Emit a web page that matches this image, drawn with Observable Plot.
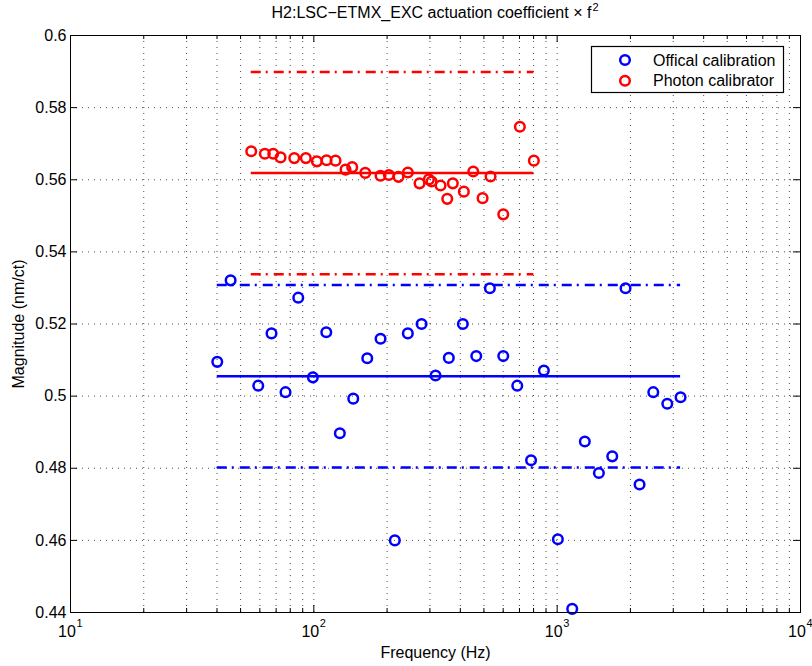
<!DOCTYPE html>
<html>
<head>
<meta charset="utf-8">
<script src="https://cdn.jsdelivr.net/npm/d3@7"></script>
<script src="https://cdn.jsdelivr.net/npm/@observablehq/plot@0.6"></script>
<style>
  html, body { margin: 0; padding: 0; background: #fff; }
  #chart { position: relative; width: 812px; height: 666px; }
</style>
</head>
<body>
<div id="chart"></div>
<script>
// ---------------- data ----------------
const titleMain = "H2:LSC\u2212ETMX_EXC actuation coefficient \u00d7 f";
const titleSup = "2";
const xLabel = "Frequency (Hz)";
const yLabel = "Magnitude (nm/ct)";
const seriesNames = ["Offical calibration", "Photon calibrator"];
const seriesColors = ["#0000ff", "#ff0000"];

const blueFreq = [40.1, 45.5, 59.1, 67.0, 76.5, 86.3, 99.1, 112.5, 127.9, 145.2, 165.8, 188.0, 215.2, 243.4, 277.2, 316.4, 358.7, 409.7, 465.1, 529.0, 600.4, 685.5, 781.1, 881.8, 1006.7, 1153, 1299, 1484, 1684, 1910, 2181, 2483, 2835, 3215];
const blueMag = [0.5095, 0.5321, 0.5029, 0.5174, 0.5011, 0.5273, 0.5052, 0.5177, 0.4897, 0.4993, 0.5105, 0.5159, 0.4600, 0.5174, 0.5200, 0.5057, 0.5106, 0.5200, 0.5111, 0.5299, 0.5111, 0.5029, 0.4822, 0.5071, 0.4603, 0.4410, 0.4874, 0.4787, 0.4833, 0.5299, 0.4755, 0.5011, 0.4979, 0.4997];

const redFreq = [55.3, 62.9, 68.1, 73.0, 83.1, 92.7, 102.9, 112.8, 122.8, 135.0, 143.8, 162.7, 188.0, 203.4, 222.9, 243.4, 271.9, 297.0, 304.7, 331.7, 353.4, 372.6, 413.6, 452.0, 493.8, 532.5, 600.4, 702.6, 802.2];
const redMag = [0.5679, 0.5672, 0.5672, 0.5662, 0.5660, 0.5660, 0.5651, 0.5654, 0.5653, 0.5628, 0.5635, 0.5619, 0.5611, 0.5613, 0.5608, 0.5620, 0.5590, 0.5601, 0.5595, 0.5584, 0.5547, 0.5590, 0.5567, 0.5623, 0.5549, 0.5609, 0.5504, 0.5747, 0.5653];

// mean and bounds [mean, upper, lower]
const blueLevels = [0.5055, 0.5308, 0.4802];
const redLevels = [0.5619, 0.5899, 0.5338];

const xMajorTicks = [10, 100, 1000, 10000];
const xMinorTicks = [20, 30, 40, 50, 60, 70, 80, 90, 200, 300, 400, 500, 600, 700, 800, 900, 2000, 3000, 4000, 5000, 6000, 7000, 8000, 9000];
const yTicks = [0.44, 0.46, 0.48, 0.50, 0.52, 0.54, 0.56, 0.58, 0.60];

// ---------------- build ----------------
const W = 812, H = 666, mL = 70, mR = 12, mT = 35, mB = 54;
const iw = W - mL - mR, ih = H - mT - mB;
const font = "'Liberation Sans', Arial, Helvetica, sans-serif";

const blue = blueFreq.map((f, i) => ({f, v: blueMag[i]}));
const red = redFreq.map((f, i) => ({f, v: redMag[i]}));
const lvl = (levels, freqs) => levels.map(v => ({v, x1: d3.min(freqs), x2: d3.max(freqs)}));
const blueMean = lvl(blueLevels.slice(0, 1), blueFreq), blueBounds = lvl(blueLevels.slice(1), blueFreq);
const redMean = lvl(redLevels.slice(0, 1), redFreq), redBounds = lvl(redLevels.slice(1), redFreq);

const xGrid = xMajorTicks.slice(1, -1).concat(xMinorTicks);
const yGrid = yTicks.slice(1, -1);
const gridStyle = {stroke: "#000", strokeWidth: 1, strokeDasharray: "1,5", strokeOpacity: 0.7};
const majorLen = 7, minorLen = 4;
const dashDot = "10,5,2,6";

const chart = Plot.plot({
  width: W, height: H,
  marginLeft: mL, marginRight: mR, marginTop: mT, marginBottom: mB,
  x: {type: "log", domain: [10, 10000], axis: null},
  y: {domain: [0.44, 0.6], axis: null},
  style: {fontFamily: font, background: "#fff", color: "#000"},
  marks: [
    // grid
    Plot.ruleX(xGrid, {x: d => d, ...gridStyle}),
    Plot.ruleY(yGrid, {y: d => d, ...gridStyle}),
    // inward ticks
    Plot.tickX(xMajorTicks, {x: d => d, stroke: "#000", insetTop: ih - majorLen}),
    Plot.tickX(xMajorTicks, {x: d => d, stroke: "#000", insetBottom: ih - majorLen}),
    Plot.tickX(xMinorTicks, {x: d => d, stroke: "#000", insetTop: ih - minorLen}),
    Plot.tickX(xMinorTicks, {x: d => d, stroke: "#000", insetBottom: ih - minorLen}),
    Plot.tickY(yTicks, {y: d => d, stroke: "#000", insetRight: iw - majorLen}),
    Plot.tickY(yTicks, {y: d => d, stroke: "#000", insetLeft: iw - majorLen}),
    // level lines
    Plot.ruleY(blueMean, {y: "v", x1: "x1", x2: "x2", stroke: seriesColors[0], strokeWidth: 2.5}),
    Plot.ruleY(blueBounds, {y: "v", x1: "x1", x2: "x2", stroke: seriesColors[0], strokeWidth: 2.5, strokeDasharray: dashDot}),
    Plot.ruleY(redMean, {y: "v", x1: "x1", x2: "x2", stroke: seriesColors[1], strokeWidth: 2.5}),
    Plot.ruleY(redBounds, {y: "v", x1: "x1", x2: "x2", stroke: seriesColors[1], strokeWidth: 2.5, strokeDasharray: dashDot}),
    // points
    Plot.dot(blue, {x: "f", y: "v", r: 4.8, stroke: seriesColors[0], strokeWidth: 2.5, fill: "none"}),
    Plot.dot(red, {x: "f", y: "v", r: 4.8, stroke: seriesColors[1], strokeWidth: 2.5, fill: "none"}),
    Plot.frame({stroke: "#000", strokeWidth: 1}),
    // tick labels
    Plot.text(yTicks, {y: d => d, text: d => String(+d.toFixed(2)), frameAnchor: "left", textAnchor: "end", lineAnchor: "middle", dx: -4, fontSize: 16, fill: "#000"}),
    Plot.text(xMajorTicks, {x: d => d, text: () => "10", frameAnchor: "bottom", textAnchor: "middle", lineAnchor: "middle", dx: -3.5, dy: 19, fontSize: 16, fill: "#000"}),
    Plot.text(xMajorTicks, {x: d => d, text: d => String(Math.round(Math.log10(d))), frameAnchor: "bottom", textAnchor: "start", lineAnchor: "middle", dx: 6, dy: 11, fontSize: 11, fill: "#000"}),
    // axis labels
    Plot.text([xLabel], {frameAnchor: "bottom", textAnchor: "middle", lineAnchor: "middle", dy: 40, fontSize: 16, fill: "#000"}),
    Plot.text([yLabel], {frameAnchor: "left", textAnchor: "middle", lineAnchor: "middle", rotate: -90, dx: -52, fontSize: 16, fill: "#000"})
  ]
});

const svg = d3.select(chart);

// title with superscript
const t = svg.append("text").attr("x", mL + iw / 2).attr("y", 18)
  .attr("font-family", font).attr("font-size", 16).attr("fill", "#000")
  .attr("text-anchor", "middle").style("text-anchor", "middle");
t.append("tspan").text(titleMain);
t.append("tspan").attr("font-size", 11).attr("dy", -7).attr("dx", 1).text(titleSup);

// legend (inside the axes, top-right)
const lg = svg.append("g").attr("class", "legend").attr("font-family", font).attr("font-size", 16)
  .attr("text-anchor", "start").style("text-anchor", "start");
const lx = 591.5, ly = 46.5, lw = 192, lh = 46;
lg.append("rect").attr("x", lx).attr("y", ly).attr("width", lw).attr("height", lh)
  .attr("fill", "#fff").attr("stroke", "#000").attr("stroke-width", 1.2);
seriesNames.forEach((name, i) => {
  const cy = ly + 13.5 + i * 20.7;
  lg.append("circle").attr("cx", lx + 33.5).attr("cy", cy).attr("r", 4.8)
    .attr("fill", "none").attr("stroke", seriesColors[i]).attr("stroke-width", 2.5);
  lg.append("text").attr("x", lx + 61.5).attr("y", cy).attr("dy", "0.35em")
    .attr("text-anchor", "start").style("text-anchor", "start").style("font-size", "16px")
    .attr("fill", "#000").text(name);
});

document.getElementById("chart").appendChild(chart);
</script>
</body>
</html>
